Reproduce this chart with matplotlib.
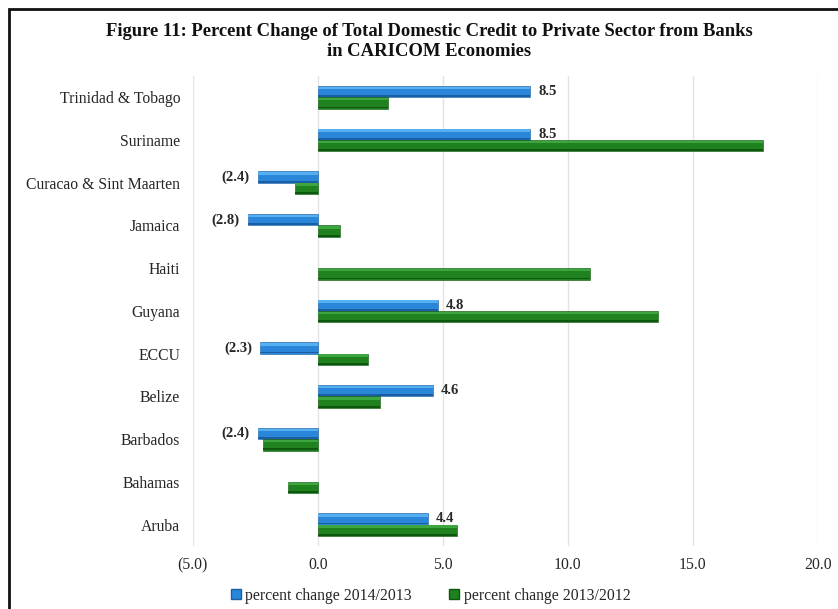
import matplotlib
matplotlib.use("Agg")
import matplotlib.pyplot as plt
from matplotlib.patches import Rectangle
from matplotlib.lines import Line2D
import numpy as np

plt.rcParams['font.family'] = ['Liberation Serif', 'DejaVu Serif']

categories = ["Trinidad & Tobago", "Suriname", "Curacao & Sint Maarten", "Jamaica",
              "Haiti", "Guyana", "ECCU", "Belize", "Barbados", "Bahamas", "Aruba"]
change_2014_2013 = [8.5, 8.5, -2.4, -2.8, np.nan, 4.8, -2.3, 4.6, -2.4, np.nan, 4.4]
change_2013_2012 = [2.8, 17.8, -0.9, 0.9, 10.9, 13.6, 2.0, 2.5, -2.2, -1.2, 5.55]
series_names = ["percent change 2014/2013", "percent change 2013/2012"]
x_ticks = [-5, 0, 5, 10, 15, 20]
x_tick_labels = ["(5.0)", "0.0", "5.0", "10.0", "15.0", "20.0"]

blue = dict(main="#2a86d8", light="#55b0f2", dark="#1a5ea4")
green = dict(main="#1f821f", light="#3ea63e", dark="#0e580e")

fig = plt.figure(figsize=(8.38, 6.09), dpi=100)
ax = fig.add_axes([0.230, 0.1034, 0.746, 0.772])

y = np.arange(len(categories))
h = 0.265


def bevel_bars(ypos, vals, col):
    vals = np.asarray(vals, dtype=float)
    keep = ~np.isnan(vals)
    ypos, vals = ypos[keep], vals[keep]
    ax.barh(ypos, vals, height=h, color=col["main"], edgecolor=col["dark"],
            linewidth=0.4, zorder=3)
    ax.barh(ypos - h * 0.33, vals, height=h * 0.22, color=col["light"],
            linewidth=0, zorder=4)
    ax.barh(ypos + h * 0.40, vals, height=h * 0.16, color=col["dark"],
            linewidth=0, zorder=4)


bevel_bars(y - h / 2, change_2014_2013, blue)
bevel_bars(y + h / 2, change_2013_2012, green)

for yi, v in zip(y, change_2014_2013):
    if np.isnan(v):
        continue
    if v >= 0:
        ax.text(v + 0.32, yi - h / 2, f"{v:.1f}", ha="left", va="center",
                fontsize=10.5, fontweight="bold", color="#262626", zorder=5)
    else:
        ax.text(v - 0.32, yi - h / 2, f"({abs(v):.1f})", ha="right", va="center",
                fontsize=10.5, fontweight="bold", color="#262626", zorder=5)

ax.set_xlim(-5, 20)
ax.set_ylim(len(categories) - 0.5, -0.5)
ax.set_xticks(x_ticks)
ax.set_xticklabels(x_tick_labels, fontsize=11.3, color="#262626", va="center")
ax.set_yticks(y)
ax.set_yticklabels(categories, fontsize=11.3, color="#262626")
ax.tick_params(axis="both", length=0)
ax.tick_params(axis="x", pad=14)
ax.tick_params(axis="y", pad=9)
ax.grid(axis="x", color="#e3e3e3", linewidth=1.0, zorder=0)
ax.set_axisbelow(True)
for s in ax.spines.values():
    s.set_visible(False)

fig.text(0.512, 0.948, "Figure 11: Percent Change of Total Domestic Credit to Private Sector from Banks",
         ha="center", va="center", fontsize=13.4, fontweight="bold", color="#111111")
fig.text(0.512, 0.916, "in CARICOM Economies",
         ha="center", va="center", fontsize=13.4, fontweight="bold", color="#111111")

handles = [Line2D([], [], marker="s", linestyle="none", markersize=6.5,
                  markerfacecolor=blue["main"], markeredgecolor=blue["dark"]),
           Line2D([], [], marker="s", linestyle="none", markersize=6.5,
                  markerfacecolor=green["main"], markeredgecolor=green["dark"])]
fig.legend(handles, series_names, loc="center", bbox_to_anchor=(0.513, 0.022),
           ncol=2, frameon=False, fontsize=11.3, handletextpad=0.2,
           columnspacing=2.3, handlelength=0.8, labelcolor="#262626")

# outer frame around the figure
fig.patches.append(Rectangle((9 / 838, -0.1), 1.2, 1.1 - 9 / 609,
                             transform=fig.transFigure, fill=False,
                             edgecolor="#111111", linewidth=2.0, zorder=10))

fig.savefig("out.png", dpi=100)
